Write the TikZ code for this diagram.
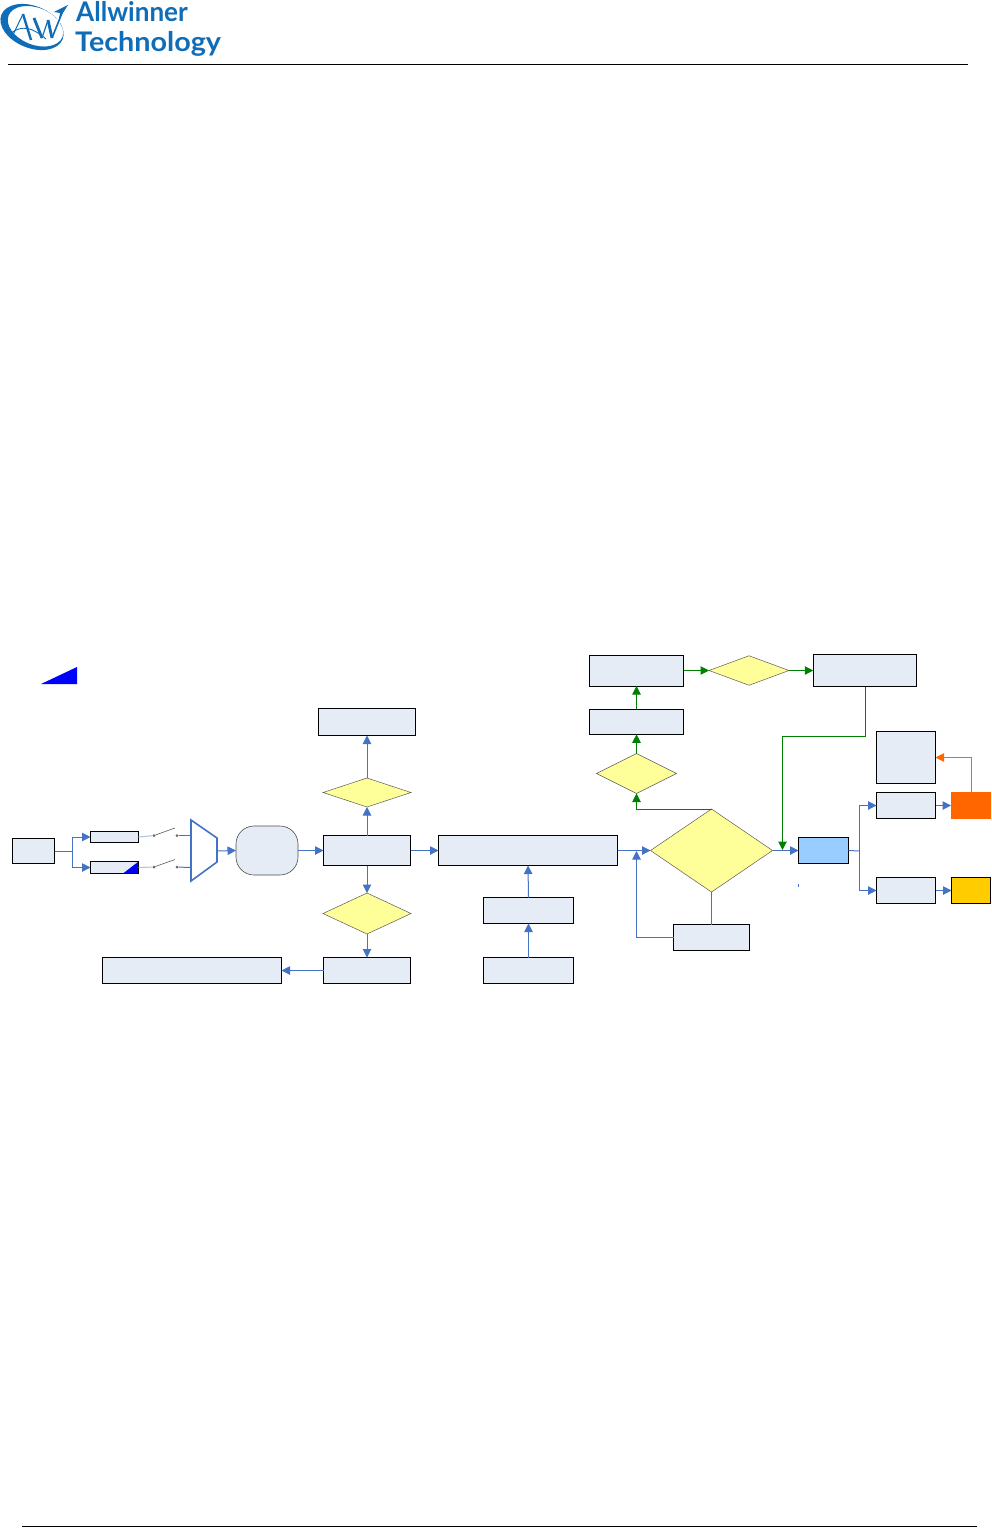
\documentclass[tikz,border=0pt]{standalone}
\usepackage{fontspec}
\usepackage{graphicx}
\setmainfont{Lato}
\usetikzlibrary{arrows.meta,shapes.geometric,positioning}
\definecolor{boxfill}{HTML}{E6ECF6}
\definecolor{linkblue}{HTML}{4472C4}
\definecolor{awblue}{HTML}{0F6DB8}
\definecolor{dgreen}{HTML}{008000}
\definecolor{dorange}{HTML}{FF6600}
\definecolor{dgold}{HTML}{FFCC00}
\definecolor{lblue}{HTML}{99CCFF}
\definecolor{dyellow}{HTML}{FFFF99}
\tikzset{
  x=1pt,y=-1pt,
  stepbox/.style={draw=black,line width=0.8pt,fill=boxfill,inner sep=0pt,outer sep=0pt},
  decide/.style={diamond,draw=black!65,line width=0.5pt,fill=dyellow,inner sep=0pt,outer sep=0pt,aspect=2},
  link/.style={draw=linkblue,line width=1pt,-{Triangle[length=8.5pt,width=8.5pt]}},
  linkplain/.style={draw=linkblue,line width=1pt},
  glink/.style={draw=dgreen,line width=1pt,-{Triangle[length=8.5pt,width=8.5pt]}},
  olink/.style={draw=dorange,line width=1pt,-{Triangle[length=8.5pt,width=8.5pt]}},
  swline/.style={draw=black!65,line width=0.6pt},
  swfeed/.style={draw=linkblue!45,line width=1pt},
  swdot/.style={circle,fill=black!60,inner sep=0pt,minimum size=3pt,outer sep=0pt},
  rule/.style={draw=black,line width=0.8pt},
  logotext/.style={text=awblue,font=\bfseries\fontsize{27}{27}\selectfont,inner sep=0pt,anchor=base west},
}
\begin{document}
\begin{tikzpicture}
\useasboundingbox (0,0) rectangle (991,1528);
% header and footer
\coordinate (hl) at (8,64.5);\coordinate (hr) at (968,64.5);
\coordinate (fl) at (22,1526.5);\coordinate (fr) at (977,1526.5);
\draw[rule] (hl) -- (hr);
\draw[rule] (fl) -- (fr);
% logo
\fill[awblue,even odd rule] [rotate around={-22:(32,27)}] (32,27) ellipse [x radius=33,y radius=21]
   (35,25) ellipse [x radius=29,y radius=18.5];
\fill[white] (52,0) -- (72,0) -- (67,20) -- (58,24) -- cycle;
\draw[awblue,line width=1pt] (11,39) -- (23,14);
\draw[awblue,line width=2.4pt] (23,14) -- (31,40);
\draw[awblue,line width=0.9pt] (11,33) .. controls (22,25) and (32,27) .. (46,39);
\draw[awblue,line width=2.8pt] (34,18) -- (42,38);
\draw[awblue,line width=1.2pt] (42,38) -- (48,20);
\draw[awblue,line width=2.8pt] (48,20) -- (52,38);
\draw[awblue,line width=1.6pt] (52,38) -- (62,13);
\fill[awblue] (68,5) -- (54,12) -- (60,13) -- (59,19) -- cycle;
\node[logotext] (l1) at (76,22) {\scalebox{0.965}[1]{Allwinner}};
\node[logotext] (l2) at (75,52) {\scalebox{1.065}[1]{Technology}};
% legend wedge
\fill[blue] (41,684) -- (77,684) -- (77,667) -- cycle;
% boxes
\node[stepbox,minimum width=42pt,minimum height=25pt] (src) at (33.5,851) {};
\node[stepbox,minimum width=48pt,minimum height=11.5pt] (f1) at (114.5,837) {};
\node[stepbox,minimum width=48pt,minimum height=12pt] (f2) at (114.5,867.5) {};
\fill[blue] (123,873.5) -- (138.5,873.5) -- (138.5,861.5) -- cycle;
\draw[black,line width=0.8pt] (f2.south west) rectangle (f2.north east);
\node[draw=black!70,line width=0.6pt,fill=boxfill,rounded corners=18pt,minimum width=62pt,minimum height=49pt,inner sep=0pt,outer sep=0pt] (adc) at (267,850.5) {};
\node[stepbox,minimum width=87pt,minimum height=30pt] (a) at (367,850.5) {};
\node[stepbox,minimum width=179pt,minimum height=30pt] (b) at (528,850.5) {};
\node[stepbox,minimum width=97pt,minimum height=27pt] (topb) at (367,722) {};
\node[stepbox,minimum width=87pt,minimum height=26pt] (lowb) at (367,970.5) {};
\node[stepbox,minimum width=179pt,minimum height=26pt] (longb) at (192,970.5) {};
\node[stepbox,minimum width=90pt,minimum height=26pt] (m1) at (528.5,910.5) {};
\node[stepbox,minimum width=90pt,minimum height=26pt] (m2) at (528.5,970.5) {};
\node[stepbox,minimum width=76pt,minimum height=26pt] (fb) at (711.5,937.5) {};
\node[stepbox,minimum width=94.5pt,minimum height=25pt] (g1) at (636.5,721.8) {};
\node[stepbox,minimum width=94.5pt,minimum height=31pt] (g2) at (636.5,670.5) {};
\node[stepbox,minimum width=103.5pt,minimum height=32pt] (g3) at (865,670.5) {};
\node[stepbox,fill=lblue,minimum width=50pt,minimum height=26pt] (dac) at (823.5,850.5) {};
\node[stepbox,minimum width=59pt,minimum height=52pt] (r0) at (906,757.5) {};
\node[stepbox,minimum width=59pt,minimum height=26pt] (r1) at (906,805.5) {};
\node[stepbox,minimum width=59pt,minimum height=26pt] (r2) at (906,890.5) {};
\node[fill=dorange,inner sep=0pt,outer sep=0pt,minimum width=40pt,minimum height=27pt] (spk) at (971,805.5) {};
\node[stepbox,fill=dgold,minimum width=39pt,minimum height=26pt] (hp) at (971,890.5) {};
% diamonds
\node[decide,minimum width=88pt,minimum height=29pt] (d1) at (367,792.5) {};
\node[decide,minimum width=88pt,minimum height=41pt] (d2) at (367,913.5) {};
\node[decide,minimum width=122pt,minimum height=83pt] (bd) at (711.5,850.5) {};
\node[decide,minimum width=80pt,minimum height=40pt] (d3) at (636.5,773.5) {};
\node[decide,minimum width=80pt,minimum height=29.5pt] (d4) at (749,670.5) {};
% mux
\draw[linkblue,line width=1.6pt,fill=white] (191,820) -- (217,838) -- (217,862) -- (191,881) -- cycle;
\coordinate (muxa) at (191,835.5);\coordinate (muxb) at (191,867.5);\coordinate (muxo) at (217,851);
% switches
\node[swdot] (s1a) at (154,835.5) {};
\node[swdot] (s1b) at (177,835.5) {};
\node[swdot] (s2a) at (154,867) {};
\node[swdot] (s2b) at (177,867) {};
\coordinate (s1t) at (175,828);\coordinate (s2t) at (175,859.5);
\draw[swfeed] (f1.east) -- (s1a);
\draw[swfeed] (f2.east) -- (s2a);
\draw[swline] (s1a) -- (s1t);
\draw[swline] (s2a) -- (s2t);
\draw[linkplain] (s1b) -- (muxa);
\draw[linkplain] (s2b) -- (muxb);
% blue connectors
\coordinate (fk) at (72.5,851);
\draw[linkplain] (src.east) -- (fk);
\draw[link] (fk) |- (f1.west);
\draw[link] (fk) |- (f2.west);
\draw[link] (muxo) -- (adc.west);
\draw[link] (adc.east) -- (a.west);
\draw[link] (a.east) -- (b.west);
\draw[link] (a.north) -- (d1.south);
\draw[link] (d1.north) -- (topb.south);
\draw[link] (a.south) -- (d2.north);
\draw[link] (d2.south) -- (lowb.north);
\draw[link] (lowb.west) -- (longb.east);
\draw[link] (m1.north) -- (b.south);
\draw[link] (m2.north) -- (m1.south);
\draw[link] (b.east) -- (bd.west);
\draw[linkplain] (bd.south) -- (fb.north);
\coordinate (fbj) at (636.5,851);
\draw[link] (fb.west) -| (fbj);
\draw[link] (bd.east) -- (dac.west);
\coordinate (dk) at (859.5,851);
\draw[linkplain] (dac.east) -- (dk);
\draw[link] (dk) |- (r1.west);
\draw[link] (dk) |- (r2.west);
\draw[link] (r1.east) -- (spk.west);
\draw[link] (r2.east) -- (hp.west);
\draw[olink] (spk.north) |- (r0.east);
% stray tick under the blue box
\coordinate (t1) at (798,884);\coordinate (t2) at (798,887);
\draw[linkplain] (t1) -- (t2);
% green connectors
\draw[glink] (bd.north) -| (d3.south);
\draw[glink] (d3.north) -- (g1.south);
\draw[glink] (g1.north) -- (g2.south);
\draw[glink] (g2.east) -- (d4.west);
\draw[glink] (d4.east) -- (g3.west);
\coordinate (gb) at (782.5,736.5);\coordinate (ge) at (782.5,850);
\draw[glink] (g3.south) |- (gb) -- (ge);
\end{tikzpicture}
\end{document}
